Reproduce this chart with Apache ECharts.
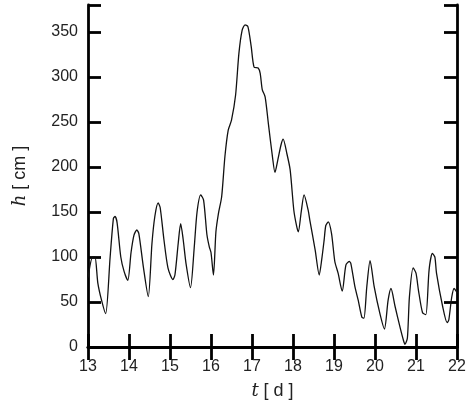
<!DOCTYPE html>
<html>
<head>
<meta charset="utf-8">
<script src="https://cdn.jsdelivr.net/npm/echarts@6/dist/echarts.min.js"></script>
<style>
  html, body { margin: 0; padding: 0; background: #fff; }
  #chart { width: 474px; height: 402px; }
</style>
</head>
<body>
<div id="chart"></div>
<script>
// time in days, water level in cm
const times = [
  13.00, 13.115, 13.17, 13.24, 13.33, 13.43, 13.54, 13.62, 13.66, 13.71, 13.80, 13.88, 13.97,
  14.05, 14.12, 14.19, 14.24, 14.35, 14.47, 14.56, 14.63, 14.71, 14.76, 14.85, 14.95,
  15.07, 15.12, 15.20, 15.26, 15.32, 15.39, 15.50, 15.59, 15.66, 15.75, 15.82, 15.90, 15.96,
  16.00, 16.06, 16.12, 16.18, 16.26, 16.34, 16.42, 16.50, 16.60, 16.68, 16.76, 16.83, 16.90, 16.98,
  17.05, 17.15, 17.20, 17.25, 17.32, 17.40, 17.50, 17.56, 17.63, 17.71, 17.76, 17.85, 17.93,
  18.02, 18.09, 18.13, 18.20, 18.27, 18.37, 18.41, 18.54, 18.64, 18.70, 18.76, 18.80, 18.86, 18.94,
  19.02, 19.10, 19.20, 19.29, 19.37, 19.41, 19.51, 19.59, 19.68, 19.73, 19.80, 19.88, 19.98,
  20.12, 20.23, 20.32, 20.39, 20.49, 20.61, 20.69, 20.73, 20.79, 20.84, 20.93,
  21.00, 21.06, 21.16, 21.24, 21.32, 21.40, 21.46, 21.50, 21.65, 21.76, 21.80, 21.87, 21.93, 21.98, 22.00
];
const levels = [
  77, 100, 100, 71, 52, 37, 100, 143, 145, 138, 100, 84, 74,
  105, 124, 130, 126, 89, 56, 115, 145, 160, 155, 120, 88,
  75, 80, 115, 137, 120, 93, 66, 110, 150, 169, 163, 125, 111,
  105, 80, 128, 148, 167, 212, 241, 252, 280, 326, 352, 358, 356, 334,
  311, 310, 304, 286, 278, 248, 211, 194, 208, 225, 231, 215, 197,
  152, 134, 128, 150, 169, 152, 141, 108, 80, 97, 119, 135, 139, 126,
  95, 82, 62, 91, 95, 93, 67, 52, 33, 32, 67, 96, 67,
  37, 20, 52, 65, 45, 22, 8, 3, 10, 56, 88,
  82, 63, 38, 36, 86, 104, 100, 82, 45, 27, 30, 55, 65, 62, 60
];
const xTicks = [13, 14, 15, 16, 17, 18, 19, 20, 21, 22];
const yTicks = [0, 50, 100, 150, 200, 250, 300, 350];

const chart = echarts.init(document.getElementById("chart"));

const labelFont = "Liberation Sans";
const frameLine = { show: true, lineStyle: { color: "#000", width: 2.8 } };
const frameTick = { show: true, inside: true, length: 13, lineStyle: { color: "#000", width: 2.8 } };

const option = {
  animation: false,
  backgroundColor: "#fff",
  grid: { left: 88, right: 17, top: 5, bottom: 55, containLabel: false, outerBoundsMode: "none" },
  xAxis: [
    {
      type: "value",
      min: xTicks[0],
      max: xTicks[xTicks.length - 1],
      interval: 1,
      axisLine: frameLine,
      axisTick: frameTick,
      splitLine: { show: false },
      axisLabel: { color: "#222", fontSize: 16, fontFamily: labelFont, margin: 12 },
      name: "{i|t} [ d ]",
      nameLocation: "middle",
      nameGap: 35,
      nameTextStyle: {
        color: "#222",
        fontSize: 18,
        fontFamily: labelFont,
        rich: { i: { fontStyle: "italic", fontSize: 18, fontFamily: "DejaVu Serif", color: "#222" } }
      }
    },
    {
      type: "value",
      position: "top",
      min: xTicks[0],
      max: xTicks[xTicks.length - 1],
      interval: 1,
      axisLine: frameLine,
      axisTick: frameTick,
      axisLabel: { show: false },
      splitLine: { show: false }
    }
  ],
  yAxis: [
    {
      type: "value",
      min: 0,
      max: 380,
      interval: 50,
      axisLine: frameLine,
      axisTick: frameTick,
      splitLine: { show: false },
      axisLabel: {
        color: "#222", fontSize: 16, fontFamily: labelFont, margin: 10,
        formatter: v => (yTicks.indexOf(v) >= 0 ? String(v) : "")
      },
      name: "{i|h} [ cm ]",
      nameLocation: "middle",
      nameGap: 59,
      nameRotate: 90,
      nameTextStyle: {
        color: "#222",
        fontSize: 18,
        fontFamily: labelFont,
        rich: { i: { fontStyle: "italic", fontSize: 18, fontFamily: "DejaVu Serif", color: "#222" } }
      }
    },
    {
      type: "value",
      position: "right",
      min: 0,
      max: 380,
      interval: 50,
      axisLine: frameLine,
      axisTick: frameTick,
      axisLabel: { show: false },
      splitLine: { show: false }
    }
  ],
  series: [
    {
      type: "line",
      data: times.map((t, i) => [t, levels[i]]),
      showSymbol: false,
      smooth: 0.25,
      lineStyle: { color: "#111", width: 1.3 },
      z: 1
    }
  ]
};

chart.setOption(option);
</script>
</body>
</html>
